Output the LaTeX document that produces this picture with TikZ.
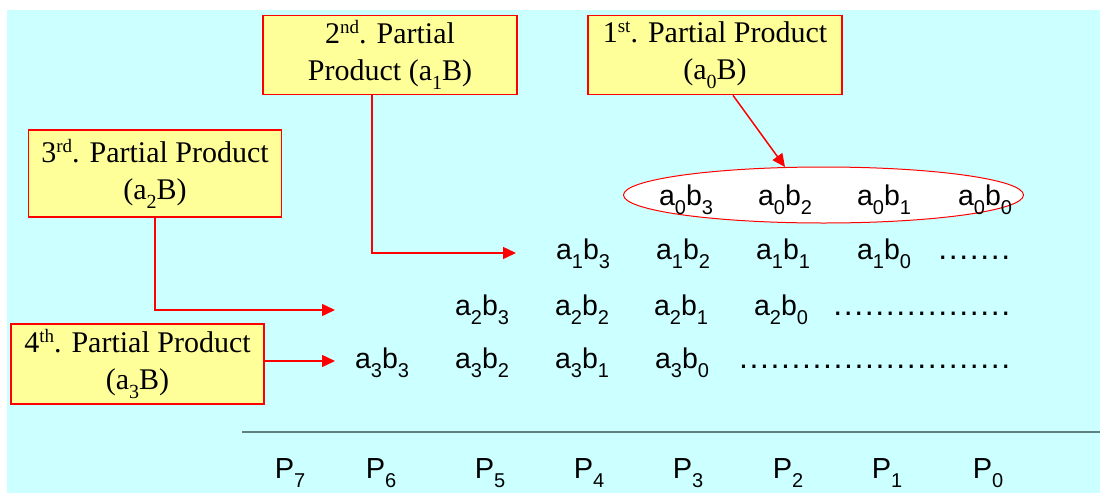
\documentclass[tikz,border=0pt]{standalone}
\usepackage{fontspec}
\setmainfont{Liberation Serif}
\newfontfamily\timesf{Liberation Serif}
\newfontfamily\arialf{Liberation Sans}
\usetikzlibrary{arrows.meta,shapes.geometric}
\definecolor{bgcyan}{RGB}{204,255,255}
\definecolor{boxyellow}{RGB}{255,255,153}
\definecolor{rulegray}{RGB}{96,128,128}
\newcommand\sbs[1]{\raisebox{-9pt}{\fontsize{20}{20}\selectfont #1}}
\newcommand\sps[1]{\raisebox{10pt}{\fontsize{19}{19}\selectfont #1}}
\newcommand\sba[1]{\raisebox{-9pt}{\fontsize{20}{20}\selectfont #1}}
\newcommand\sbp[1]{\raisebox{-9pt}{\fontsize{20}{20}\selectfont #1}}
\newcommand\dotrow[1]{\foreach\i in {1,...,#1}{.\kern 1.6pt}}
\begin{document}
\begin{tikzpicture}[x=1pt,y=-1pt,
  pbox/.style={draw=red, line width=1.7pt, fill=boxyellow, align=center,
    inner sep=0pt, font=\timesf\fontsize{30}{37}\selectfont},
  conn/.style={draw=red, line width=1.5pt, -{Triangle[length=13pt,width=12pt]}},
  term/.style={font=\arialf\fontsize{28.5}{28.5}\selectfont, anchor=base, inner sep=0pt},
  dotsty/.style={font=\arialf\fontsize{32}{32}\selectfont, anchor=base east, inner sep=0pt},
  plab/.style={font=\arialf\fontsize{29}{29}\selectfont, anchor=base, inner sep=0pt}]
\useasboundingbox (0,0) rectangle (1100,493);
\fill[white] (0,0) rectangle (1100,493);
\fill[bgcyan] (7,10) rectangle (1100,493);

% boxes
\node[pbox, minimum width=254pt, minimum height=79pt] (b2) at (390,55)
  {2\sps{nd}. Partial\\Product (a\sbs{1}B)};
\node[pbox, minimum width=254pt, minimum height=79pt] (b1) at (715,55)
  {1\sps{st}. Partial Product\\(a\sbs{0}B)};
\node[pbox, minimum width=253pt, minimum height=87pt] (b3) at (155,173.5)
  {3\sps{rd}. Partial Product\\(a\sbs{2}B)};
\node[pbox, minimum width=253pt, minimum height=80pt] (b4) at (137.5,364)
  {4\sps{th}. Partial Product\\(a\sbs{3}B)};

% ellipse around first row
\node[ellipse, draw=red, line width=1pt, fill=white, minimum width=400pt,
  minimum height=56pt, inner sep=0pt] (e0) at (823.5,195) {};

% arrow targets
\coordinate (t1) at (785,167);
\coordinate (t2) at (516,253);
\coordinate (t3) at (335,310);
\coordinate (t4) at (335,361);

\draw[conn] ([xshift=18pt]b1.south) -- (t1);
\draw[conn] ([xshift=-18pt]b2.south) |- (t2);
\draw[conn] (b3.south) |- (t3);
\draw[conn] (b4.east |- t4) -- (t4);

% row 0
\node[term] (r00) at (686,205) {a\sba{0}b\sba{3}};
\node[term] (r01) at (785,205) {a\sba{0}b\sba{2}};
\node[term] (r02) at (884,205) {a\sba{0}b\sba{1}};
\node[term] (r03) at (985,205) {a\sba{0}b\sba{0}};
% row 1
\node[term] (r10) at (583,259) {a\sba{1}b\sba{3}};
\node[term] (r11) at (683,259) {a\sba{1}b\sba{2}};
\node[term] (r12) at (783,259) {a\sba{1}b\sba{1}};
\node[term] (r13) at (884,259) {a\sba{1}b\sba{0}};
\node[dotsty] (d1) at (1012,259) {\dotrow{7}};
% row 2
\node[term] (r20) at (482,315) {a\sba{2}b\sba{3}};
\node[term] (r21) at (582,315) {a\sba{2}b\sba{2}};
\node[term] (r22) at (681,315) {a\sba{2}b\sba{1}};
\node[term] (r23) at (781,315) {a\sba{2}b\sba{0}};
\node[dotsty] (d2) at (1012,315) {\dotrow{17}};
% row 3
\node[term] (r30) at (382,368) {a\sba{3}b\sba{3}};
\node[term] (r31) at (482,368) {a\sba{3}b\sba{2}};
\node[term] (r32) at (582,368) {a\sba{3}b\sba{1}};
\node[term] (r33) at (682,368) {a\sba{3}b\sba{0}};
\node[dotsty] (d3) at (1012,368) {\dotrow{26}};

% rule
\draw[rulegray, line width=1.6pt] (242,432) -- (1100,432);

% result labels
\node[plab] (p7) at (290,478) {P\sbp{7}};
\node[plab] (p6) at (381,478) {P\sbp{6}};
\node[plab] (p5) at (490,478) {P\sbp{5}};
\node[plab] (p4) at (589,478) {P\sbp{4}};
\node[plab] (p3) at (688,478) {P\sbp{3}};
\node[plab] (p2) at (788,478) {P\sbp{2}};
\node[plab] (p1) at (887,478) {P\sbp{1}};
\node[plab] (p0) at (988,478) {P\sbp{0}};
\end{tikzpicture}
\end{document}
